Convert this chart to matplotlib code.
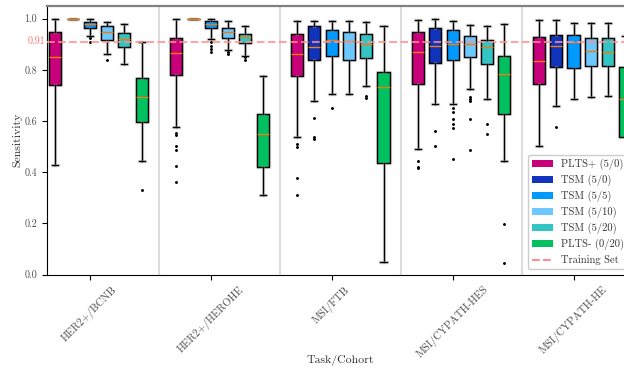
import matplotlib
matplotlib.use("Agg")
import matplotlib.pyplot as plt
import matplotlib.patheffects as pe
from matplotlib.patches import Patch
from matplotlib.lines import Line2D

plt.rcParams['font.family'] = 'serif'
plt.rcParams['font.serif'] = ['cmr10', 'DejaVu Serif']
plt.rcParams['mathtext.fontset'] = 'cm'
plt.rcParams['axes.unicode_minus'] = False
plt.rcParams['axes.formatter.use_mathtext'] = True

cohorts = ["HER2+/BCNB", "HER2+/HEROHE", "MSI/FTB", "MSI/CYPATH-HES", "MSI/CYPATH-HE"]
methods = ["PLTS+ (5/0)", "TSM (5/0)", "TSM (5/5)", "TSM (5/10)", "TSM (5/20)", "PLTS- (0/20)"]
colors = ["#c8007a", "#1133bb", "#0099ff", "#6cc8ff", "#33c4c4", "#00c060"]
training_sens = 0.91

# box stats per cohort: [whislo, q1, med, q3, whishi] for each method
bcnb_stats = [[0.430, 0.741, 0.848, 0.949, 1.000],
              [1.000, 1.000, 1.000, 1.000, 1.000],
              [0.932, 0.964, 0.977, 0.988, 1.000],
              [0.860, 0.918, 0.946, 0.970, 0.988],
              [0.824, 0.889, 0.920, 0.943, 0.980],
              [0.444, 0.598, 0.694, 0.767, 0.907]]
bcnb_fliers = [[], [], [0.925, 0.910], [0.837], [], [0.331]]

herohe_stats = [[0.576, 0.780, 0.866, 0.925, 1.000],
                [1.000, 1.000, 1.000, 1.000, 1.000],
                [0.920, 0.962, 0.977, 0.990, 1.000],
                [0.876, 0.925, 0.946, 0.962, 0.990],
                [0.855, 0.904, 0.928, 0.941, 0.970],
                [0.311, 0.419, 0.551, 0.627, 0.775]]
herohe_fliers = [[0.554, 0.546, 0.504, 0.486, 0.426, 0.361],
                 [], [0.907, 0.892, 0.881, 0.868], [0.868, 0.863],
                 [0.848, 0.840], []]

ftb_stats = [[0.538, 0.777, 0.860, 0.938, 0.990],
             [0.678, 0.837, 0.889, 0.972, 0.990],
             [0.705, 0.853, 0.915, 0.957, 0.990],
             [0.705, 0.837, 0.912, 0.946, 0.990],
             [0.738, 0.845, 0.899, 0.938, 0.985],
             [0.048, 0.437, 0.731, 0.790, 0.972]]
ftb_fliers = [[0.512, 0.497, 0.377, 0.310], [0.611, 0.538, 0.530], [0.650],
              [], [0.697, 0.689], []]

hes_stats = [[0.489, 0.746, 0.871, 0.949, 0.996],
             [0.665, 0.827, 0.894, 0.964, 1.000],
             [0.665, 0.837, 0.899, 0.957, 0.990],
             [0.723, 0.848, 0.899, 0.933, 0.975],
             [0.686, 0.824, 0.889, 0.918, 0.972],
             [0.444, 0.627, 0.782, 0.855, 0.977]]
hes_fliers = [[0.442, 0.421, 0.416], [0.559, 0.504],
              [0.650, 0.637, 0.608, 0.588, 0.572, 0.452],
              [0.694, 0.686, 0.678, 0.608, 0.486], [0.588, 0.551], [0.199, 0.046]]

he_stats = [[0.502, 0.746, 0.834, 0.928, 0.993],
            [0.658, 0.811, 0.892, 0.936, 0.993],
            [0.684, 0.806, 0.907, 0.936, 0.982],
            [0.694, 0.816, 0.873, 0.923, 0.982],
            [0.699, 0.816, 0.868, 0.923, 0.982],
            [0.420, 0.536, 0.684, 0.811, 0.933]]
he_fliers = [[], [0.575], [], [], [], []]

all_stats = [bcnb_stats, herohe_stats, ftb_stats, hes_stats, he_stats]
all_fliers = [bcnb_fliers, herohe_fliers, ftb_fliers, hes_fliers, he_fliers]

fig = plt.figure(figsize=(6.24, 3.73), dpi=100)
ax = fig.add_axes([0.0748, 0.2635, 0.9412, 0.7212])

halo = [pe.Stroke(linewidth=2.4, foreground="0.65", alpha=0.4), pe.Normal()]

for i, (stats, fliers) in enumerate(zip(all_stats, all_fliers)):
    bxp_stats = []
    for s, f in zip(stats, fliers):
        bxp_stats.append(dict(whislo=s[0], q1=s[1], med=s[2], q3=s[3],
                              whishi=s[4], fliers=f))
    pos = [i + (j - 2) / 7 for j in range(len(methods))]
    bp = ax.bxp(bxp_stats, positions=pos, widths=0.1, patch_artist=True,
                boxprops=dict(linewidth=1.0, edgecolor="black"),
                whiskerprops=dict(linewidth=1.0, color="black"),
                capprops=dict(linewidth=1.0, color="black"),
                medianprops=dict(linewidth=1.0, color="#f07d10"),
                flierprops=dict(marker=".", markersize=2.2,
                                markerfacecolor="black", markeredgecolor="black"))
    for patch, c in zip(bp["boxes"], colors):
        patch.set_facecolor(c)
        patch.set_path_effects(halo)
    for ln in bp["whiskers"] + bp["caps"]:
        ln.set_path_effects(halo)

for i in range(len(cohorts) - 1):
    ax.axvline(i + 4 / 7, color="#dddddd", linewidth=1.5, zorder=0)

ax.axhline(training_sens, color="#ff8f8f", linestyle="--", linewidth=1.5,
           alpha=0.8, zorder=5)

ax.set_xlim(-5 / 14, len(cohorts) - 0.5)
ax.set_ylim(0, 1.05)
ax.set_xticks(range(len(cohorts)))
ax.set_xticklabels(cohorts, rotation=45, ha="center", fontsize=7.7)
ax.set_yticks([0.0, 0.2, 0.4, 0.6, 0.8, 1.0])
ax.set_yticklabels(["0.0", "0.2", "0.4", "0.6", "0.8", "1.0"], fontsize=7.2)
ax.tick_params(axis="both", colors="black", labelcolor="0.3", length=3.5)
ax.text(-0.003, training_sens, f"{training_sens:.2f}", transform=ax.get_yaxis_transform(),
        ha="right", va="center", fontsize=7.2, color="#ff6b6b")

ax.spines["top"].set_color("0.5")
ax.spines["top"].set_linewidth(1.6)
ax.spines["right"].set_visible(False)

ax.set_xlabel("Task/Cohort", fontsize=8.5, color="0.2")
ax.xaxis.set_label_coords(0.5, -0.30)
ax.set_ylabel("Sensitivity", fontsize=8.5, color="0.2", labelpad=1)

handles = [Patch(facecolor=c, edgecolor="none", label=m) for c, m in zip(colors, methods)]
handles.append(Line2D([0], [0], color="#ff8f8f", linestyle="--", linewidth=1.5,
                      label="Training Set"))
ax.legend(handles=handles, loc="lower right", fontsize=7.6, handlelength=2.0,
          labelspacing=0.45, labelcolor="0.2", edgecolor="#cccccc", framealpha=1.0)

fig.savefig("out.png", dpi=100)
